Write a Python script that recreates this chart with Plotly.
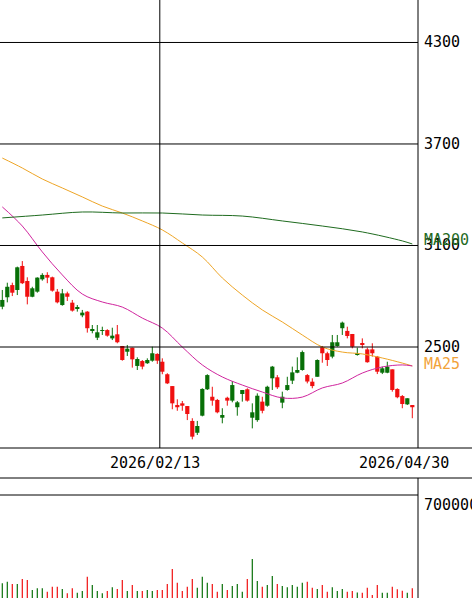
import plotly.graph_objects as go

# daily candles, oldest first (last session = 2026/04/30)
opens = [2738, 2794, 2866, 2837, 2979, 2890, 2797, 2827, 2900, 2926,
         2912, 2827, 2748, 2817, 2762, 2729, 2687, 2709, 2600, 2555,
         2595, 2600, 2551, 2575, 2506, 2472, 2496, 2388, 2417, 2404,
         2419, 2459, 2413, 2339, 2269, 2157, 2167, 2151, 2063, 1993,
         2094, 2250, 2206, 2187, 2082, 2200, 2183, 2144, 2222, 2250,
         2082, 2068, 2177, 2153, 2315, 2321, 2171, 2246, 2301, 2348,
         2364, 2334, 2295, 2324, 2498, 2463, 2443, 2506, 2611, 2595,
         2577, 2453, 2522, 2486, 2486, 2443, 2348, 2348, 2368, 2252,
         2210, 2161, 2157]
highs = [2837, 2880, 2880, 2975, 3008, 2912, 2856, 2912, 2936, 2942,
         2916, 2843, 2843, 2827, 2778, 2748, 2719, 2712, 2630, 2630,
         2620, 2605, 2614, 2630, 2506, 2512, 2496, 2439, 2423, 2433,
         2502, 2463, 2433, 2345, 2269, 2191, 2181, 2151, 2079, 2063,
         2256, 2339, 2265, 2193, 2138, 2206, 2299, 2181, 2246, 2256,
         2167, 2226, 2206, 2271, 2388, 2334, 2236, 2324, 2384, 2439,
         2479, 2340, 2315, 2427, 2506, 2472, 2571, 2571, 2650, 2620,
         2577, 2496, 2551, 2496, 2522, 2447, 2384, 2413, 2368, 2256,
         2216, 2197, 2157]
lows = [2723, 2764, 2801, 2807, 2872, 2752, 2794, 2821, 2892, 2877,
        2827, 2758, 2744, 2772, 2709, 2709, 2676, 2585, 2581, 2541,
        2571, 2561, 2541, 2522, 2419, 2447, 2378, 2364, 2368, 2400,
        2413, 2400, 2339, 2281, 2132, 2123, 2123, 2068, 1954, 1980,
        2090, 2246, 2153, 2108, 2049, 2153, 2173, 2094, 2177, 2177,
        2019, 2058, 2108, 2147, 2246, 2252, 2138, 2242, 2281, 2345,
        2360, 2285, 2256, 2324, 2407, 2388, 2433, 2502, 2571, 2551,
        2492, 2449, 2492, 2407, 2443, 2340, 2340, 2345, 2236, 2197,
        2138, 2157, 2079]
closes = [2778, 2856, 2821, 2971, 2877, 2797, 2847, 2910, 2926, 2910,
          2833, 2764, 2817, 2797, 2715, 2732, 2703, 2611, 2605, 2587,
          2600, 2567, 2567, 2528, 2423, 2490, 2427, 2429, 2384, 2423,
          2463, 2419, 2354, 2285, 2167, 2144, 2153, 2104, 1970, 2033,
          2252, 2334, 2183, 2114, 2098, 2183, 2275, 2173, 2246, 2183,
          2114, 2212, 2123, 2265, 2384, 2262, 2206, 2275, 2350, 2364,
          2470, 2296, 2269, 2423, 2463, 2423, 2528, 2528, 2644, 2565,
          2502, 2463, 2512, 2410, 2463, 2354, 2374, 2384, 2246, 2203,
          2163, 2197, 2144]
volumes = [100000, 111000, 95000, 95000, 129000, 122000, 54000, 66000, 66000, 43000,
           77000, 77000, 61000, 32000, 66000, 36000, 48000, 145000, 88000, 48000,
           32000, 48000, 73000, 61000, 122000, 48000, 88000, 48000, 48000, 54000,
           48000, 54000, 54000, 95000, 197000, 104000, 48000, 77000, 129000, 70000,
           145000, 104000, 95000, 43000, 95000, 54000, 82000, 95000, 43000, 129000,
           265000, 116000, 77000, 88000, 150000, 95000, 82000, 73000, 88000, 77000,
           104000, 111000, 70000, 61000, 88000, 43000, 73000, 48000, 61000, 43000,
           48000, 38000, 36000, 70000, 20000, 88000, 36000, 36000, 77000, 59000,
           50000, 36000, 66000]

# moving averages, read every 4th session
ma_idx = [0, 4, 8, 12, 16, 20, 24, 28, 32, 36, 40,
          44, 48, 52, 56, 60, 64, 68, 72, 76, 80, 82]
ma25 = [3328, 3215, 3062, 2926, 2813, 2766, 2736, 2671, 2612, 2500, 2394,
        2323, 2275, 2234, 2199, 2204, 2258, 2287, 2346, 2382, 2394, 2388]
ma75 = [3617, 3558, 3493, 3440, 3387, 3333, 3292, 3245, 3192, 3115, 3032,
        2908, 2807, 2719, 2648, 2571, 2500, 2470, 2459, 2435, 2405, 2388]
ma200_idx = [0, 8, 16, 24, 32, 40, 48, 56, 64, 72, 80, 82]
ma200 = [3263, 3280, 3298, 3292, 3292, 3280, 3274, 3245, 3215, 3180, 3127, 3109]

price_ticks = [2500, 3100, 3700, 4300]
vol_ticks = [700000]
date_idx = [31, 82]
date_labels = ["2026/02/13", "2026/04/30"]

UP = "#087008"
DOWN = "#f01010"
FONT = dict(family="DejaVu Sans Mono", size=15, color="black")

n = len(opens)
xs = list(range(n))
up = [c >= o for o, c in zip(opens, closes)]

fig = go.Figure()

# wicks
for flag, col in ((True, UP), (False, DOWN)):
    wx, wy = [], []
    for i in xs:
        if up[i] == flag:
            wx += [i, i, None]
            wy += [lows[i], highs[i], None]
    fig.add_trace(go.Scatter(x=wx, y=wy, mode="lines",
                             line=dict(color=col, width=1),
                             hoverinfo="skip", showlegend=False))

# bodies
fig.add_trace(go.Bar(
    x=xs,
    y=[max(abs(c - o), 4) for o, c in zip(opens, closes)],
    base=[min(o, c) for o, c in zip(opens, closes)],
    width=0.84,
    marker=dict(color=[UP if u else DOWN for u in up], line_width=0),
    showlegend=False
))

fig.add_trace(go.Scatter(x=ma_idx, y=ma75, mode="lines", line_shape="spline",
                         line=dict(color="#eea526", width=1), showlegend=False))
fig.add_trace(go.Scatter(x=ma_idx, y=ma25, mode="lines", line_shape="spline",
                         line=dict(color="#d0259e", width=1), showlegend=False))
fig.add_trace(go.Scatter(x=ma200_idx, y=ma200, mode="lines", line_shape="spline",
                         line=dict(color="#1f6b1f", width=1), showlegend=False))

# volume, thin sticks
for flag, col in ((True, UP), (False, DOWN)):
    vx, vy = [], []
    for i in xs:
        if up[i] == flag:
            vx += [i, i, None]
            vy += [0, volumes[i], None]
    fig.add_trace(go.Scatter(x=vx, y=vy, mode="lines",
                             line=dict(color=col, width=1.2),
                             xaxis="x2", yaxis="y2",
                             hoverinfo="skip", showlegend=False))

W, H = 472, 598
right = 418 / W
price_bottom = 1 - 448 / H
vol_top = 1 - 478 / H

shapes = []
for p in price_ticks:
    shapes.append(dict(type="line", xref="x domain", yref="y", x0=0, x1=1,
                       y0=p, y1=p, line=dict(color="black", width=1), layer="above"))
for v in vol_ticks:
    shapes.append(dict(type="line", xref="x2 domain", yref="y2", x0=0, x1=1,
                       y0=v, y1=v, line=dict(color="black", width=1), layer="above"))
# date grid line
shapes.append(dict(type="line", xref="x", yref="y domain", x0=date_idx[0] + 0.5,
                   x1=date_idx[0] + 0.5, y0=0, y1=1,
                   line=dict(color="black", width=1), layer="above"))
# frame
for yy in (price_bottom, vol_top):
    shapes.append(dict(type="line", xref="paper", yref="paper", x0=0, x1=1,
                       y0=yy, y1=yy, line=dict(color="black", width=1)))
shapes.append(dict(type="line", xref="paper", yref="paper", x0=right, x1=right,
                   y0=price_bottom, y1=1, line=dict(color="black", width=1)))
shapes.append(dict(type="line", xref="paper", yref="paper", x0=right, x1=right,
                   y0=0, y1=vol_top, line=dict(color="black", width=1)))

annotations = []
lx = 422 / W
for p in price_ticks:
    annotations.append(dict(x=lx, xref="paper", y=p, yref="y", text=str(p),
                            xanchor="left", yanchor="middle", showarrow=False, font=FONT))
annotations.append(dict(x=lx, xref="paper", y=3132, yref="y", text="MA200",
                        xanchor="left", yanchor="middle", showarrow=False,
                        font=dict(FONT, color="#1f6b1f")))
annotations.append(dict(x=lx, xref="paper", y=2402, yref="y", text="MA25",
                        xanchor="left", yanchor="middle", showarrow=False,
                        font=dict(FONT, color="#f2a33a")))
for v in vol_ticks:
    annotations.append(dict(x=lx, xref="paper", y=v, yref="y2", text=str(v),
                            xanchor="left", yanchor="top", showarrow=False,
                            yshift=1, font=FONT))
date_y = 1 - 463 / H
for i, lab, sh in zip(date_idx, date_labels, (-2, -8)):
    annotations.append(dict(x=i, xref="x", y=date_y, yref="paper", text=lab,
                            xanchor="center", yanchor="middle", showarrow=False,
                            xshift=sh, font=FONT))

xr = [-0.46, -0.46 + 418 / 5]
fig.update_layout(
    width=W, height=H,
    margin=dict(l=0, r=0, t=0, b=0),
    paper_bgcolor="white", plot_bgcolor="white",
    barmode="overlay",
    xaxis=dict(domain=[0, right], range=xr, visible=False),
    yaxis=dict(domain=[price_bottom, 1], range=[1903, 4551], visible=False),
    xaxis2=dict(domain=[0, right], range=xr, visible=False, anchor="y2"),
    yaxis2=dict(domain=[0, vol_top], range=[0, 815500], visible=False, anchor="x2"),
    shapes=shapes,
    annotations=annotations,
)

fig.write_html("out.html", config={"displayModeBar": False},
               post_script="document.body.style.margin='0';document.body.style.overflow='hidden';")
